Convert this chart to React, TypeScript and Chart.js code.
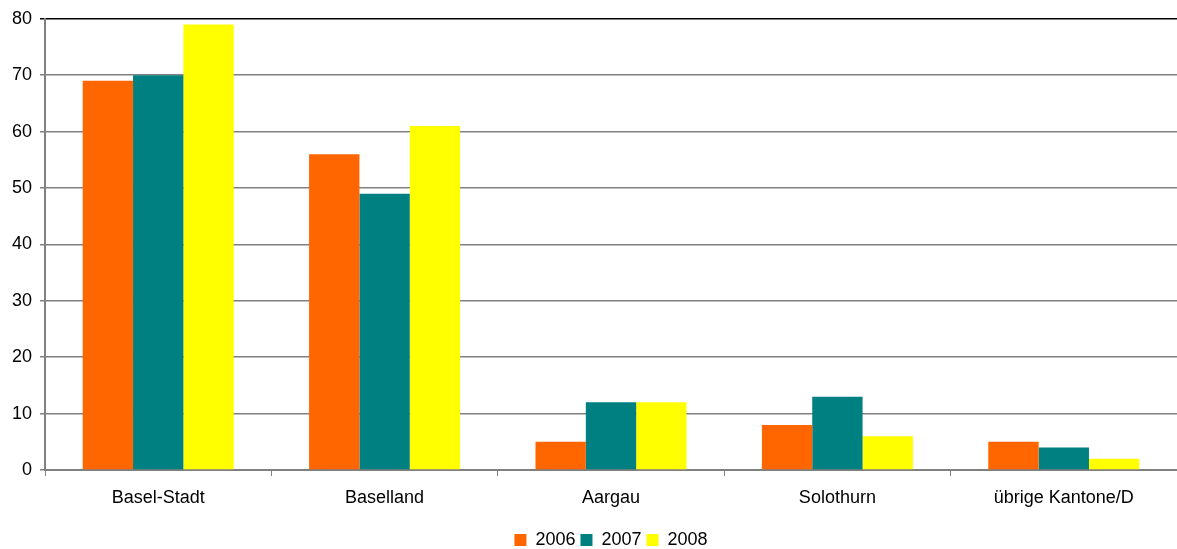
import React, { useEffect, useRef } from "react";
import { Chart, registerables } from "chart.js";

Chart.register(...registerables);

const categories = ["Basel-Stadt", "Baselland", "Aargau", "Solothurn", "übrige Kantone/D"];
const series2006 = [69, 56, 5, 8, 5];
const series2007 = [70, 49, 12, 13, 4];
const series2008 = [79, 61, 12, 6, 2];
const seriesLabels = ["2006", "2007", "2008"];

const FONT = "'Liberation Sans', Arial, sans-serif";

const legendPlacePlugin = {
  id: "legendPlace",
  afterLayout(chart: any) {
    const lg = chart.legend;
    const ca = chart.chartArea;
    if (!lg || !ca) return;
    lg.left = ca.left;
    lg.right = ca.right;
    lg.width = ca.right - ca.left;
    lg.top += 10;
    lg.bottom += 10;
  },
};

export default function App() {
  const ref = useRef<HTMLCanvasElement | null>(null);
  useEffect(() => {
    if (!ref.current) return;
    const chart = new Chart(ref.current, {
      type: "bar",
      data: {
        labels: categories,
        datasets: [
          { label: seriesLabels[0], data: series2006, backgroundColor: "#FF6600" },
          { label: seriesLabels[1], data: series2007, backgroundColor: "#008080" },
          { label: seriesLabels[2], data: series2008, backgroundColor: "#FFFF00" },
        ],
      },
      plugins: [legendPlacePlugin],
      options: {
        animation: false,
        responsive: false,
        maintainAspectRatio: false,
        layout: { padding: { top: 17, right: 0, left: 0, bottom: 0 } },
        datasets: { bar: { categoryPercentage: 0.667, barPercentage: 1.0 } },
        plugins: {
          legend: {
            position: "bottom",
            labels: {
              boxWidth: 12,
              boxHeight: 12,
              padding: 5,
              color: "#000",
              font: { family: FONT, size: 18 },
            },
          },
          tooltip: { enabled: false },
        },
        scales: {
          x: {
            offset: true,
            grid: {
              offset: true,
              drawOnChartArea: false,
              drawTicks: true,
              tickLength: 6,
              color: "#808080",
            },
            border: { color: "#808080", width: 2 },
            ticks: { color: "#000", padding: 11, font: { family: FONT, size: 18 } },
            afterFit: (s: any) => { s.height = 46; },
          },
          y: {
            min: 0,
            max: 80,
            ticks: { stepSize: 10, color: "#000", padding: 8, font: { family: FONT, size: 18 } },
            grid: {
              color: (ctx: any) => (ctx.tick && ctx.tick.value === 80 ? "#000" : "#808080"),
              lineWidth: 1.5,
              tickLength: 5,
            },
            border: { color: "#808080", width: 2 },
            afterFit: (s: any) => { s.width = 45; },
          },
        },
      },
    });
    return () => chart.destroy();
  }, []);
  return (
    <div style={{ position: "absolute", left: 0, top: 0, width: 1177, height: 549, background: "#fff" }}>
      <canvas ref={ref} width={1177} height={549} />
    </div>
  );
}
